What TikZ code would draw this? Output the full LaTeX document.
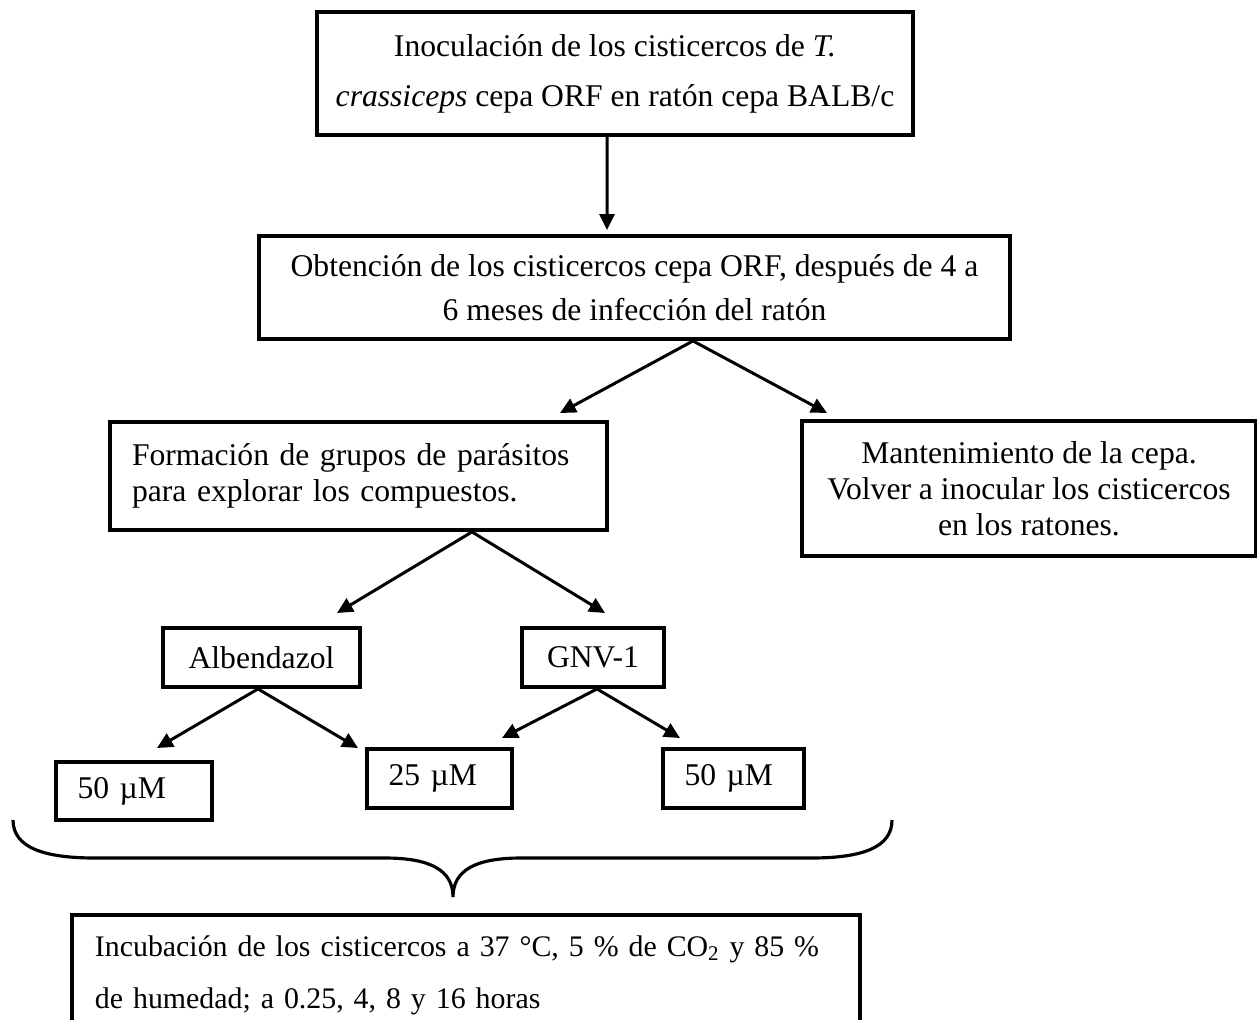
\documentclass[tikz,border=0pt]{standalone}
\usepackage{fontspec}
\setmainfont{Liberation Serif}
\usetikzlibrary{arrows.meta}

\tikzset{
        box/.style={draw, line width=2.2pt, inner sep=0pt, font=\fontsize{18}{25}\selectfont},
        dose/.style={box, inner xsep=0.43cm, align=left, minimum height=1.18cm},
        arr/.style={line width=1.7pt, -{Triangle[length=9pt,width=8.5pt]}}
}

\begin{document}
\begin{tikzpicture}[x=0.02cm, y=-0.02cm]
        \useasboundingbox (0,0) rectangle (1257,1019);
        \clip (0,0) rectangle (1257,1019);

        \node[box, font=\fontsize{18}{28.5}\selectfont, minimum width=11.92cm, minimum height=2.46cm,
                align=center] (inoc) at (615,73.5)
                {Inoculación de los cisticercos de \textit{T.}\\\textit{crassiceps} cepa ORF en ratón cepa BALB/c};
        \node[box, minimum width=15.02cm, minimum height=2.06cm, align=center] (obt) at (634.5,287.5)
                {Obtención de los cisticercos cepa ORF, después de 4 a\\6 meses de infección del ratón};
        \node[box, font=\fontsize{18}{20.5}\selectfont, minimum width=9.94cm, minimum height=2.16cm,
                inner xsep=0.44cm, text width=9.06cm, align=left] (form) at (358.5,476)
                {\mbox{Formación de grupos de parásitos}\\\mbox{para explorar los compuestos.}};
        \node[box, font=\fontsize{18}{20.5}\selectfont, minimum width=9.08cm, minimum height=2.7cm,
                align=center] (mant) at (1029,488.5)
                {Mantenimiento de la cepa.\\Volver a inocular los cisticercos\\en los ratones.};
        \node[box, minimum width=3.94cm, minimum height=1.18cm] (alb) at (261.5,657.5) {Albendazol};
        \node[box, minimum width=2.84cm, minimum height=1.18cm] (gnv) at (593,657.5) {GNV-1};
        \node[dose, minimum height=1.16cm, text width=2.26cm] (alb50) at (134,791) {50 µM};
        \node[dose, text width=2.04cm] (gnv25) at (439.5,778.5) {25 µM};
        \node[dose, text width=1.96cm] (gnv50) at (733.5,778.5) {50 µM};
        \node[box, font=\fontsize{17}{30}\selectfont, anchor=north west, minimum width=15.76cm,
                minimum height=2.42cm, inner xsep=0.46cm, text width=14.84cm, align=left] (inc) at (70,913)
                {\mbox{Incubación de los cisticercos a 37 °C, 5 \% de CO\textsubscript{2} y 85 \%}\\\mbox{de humedad; a 0.25, 4, 8 y 16 horas}};

        \coordinate (t1) at (607,230);
        \coordinate (t2) at (560,413);
        \coordinate (t3) at (827,413);
        \coordinate (t4) at (337,613);
        \coordinate (t5) at (605,613);
        \coordinate (t6) at (157,748);
        \coordinate (t7) at (358,748);
        \coordinate (t8) at (502,738);
        \coordinate (t9) at (680,738);

        \draw[arr] ([xshift=-0.16cm]inoc.south) -- (t1);
        \draw[arr] ([xshift=1.17cm]obt.south) -- (t2);
        \draw[arr] ([xshift=1.17cm]obt.south) -- (t3);
        \draw[arr] ([xshift=2.27cm]form.south) -- (t4);
        \draw[arr] ([xshift=2.27cm]form.south) -- (t5);
        \draw[arr] ([xshift=-0.07cm]alb.south) -- (t6);
        \draw[arr] ([xshift=-0.07cm]alb.south) -- (t7);
        \draw[arr] ([xshift=0.08cm]gnv.south) -- (t8);
        \draw[arr] ([xshift=0.08cm]gnv.south) -- (t9);

        \draw[line width=1.8pt] (13,820) .. controls (13,848) and (45,858) .. (95,858) -- (385,858)
                .. controls (430,858) and (453,870) .. (453,897)
                .. controls (453,870) and (476,858) .. (521,858) -- (811,858)
                .. controls (861,858) and (892,848) .. (892,820);
\end{tikzpicture}
\end{document}
